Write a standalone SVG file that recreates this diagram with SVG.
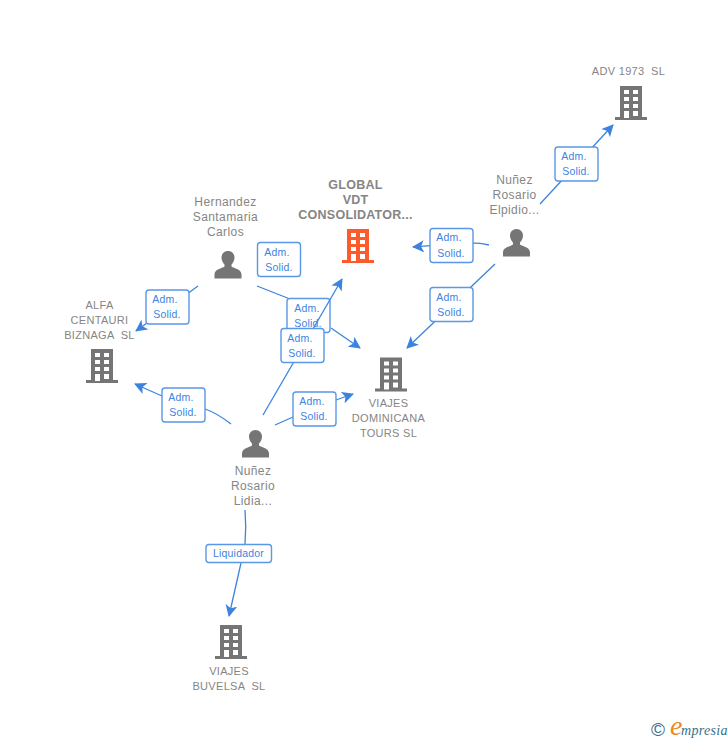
<svg xmlns="http://www.w3.org/2000/svg" width="728" height="740" viewBox="0 0 728 740">
<style>
.t{font-family:"Liberation Sans",Arial,sans-serif;font-size:12px;letter-spacing:.4px;fill:#858585;text-anchor:middle;white-space:pre}
.co{font-size:11px;letter-spacing:.3px}
.tb{font-weight:bold;font-size:12.5px;letter-spacing:.25px}
.c{fill:none;stroke:#3c83e0;stroke-width:1.3}
.a{fill:none;stroke:#3c83e0;stroke-width:1.3;marker-end:url(#arr)}
.b{fill:#fff;stroke:#5a97e6;stroke-width:1.4}
.l{font-family:"Liberation Sans",Arial,sans-serif;font-size:10.5px;letter-spacing:.2px;fill:#3c83e0;text-anchor:middle}
</style>
<defs>
<marker id="arr" markerUnits="userSpaceOnUse" viewBox="0 0 12 12" refX="11" refY="6" markerWidth="12" markerHeight="12" orient="auto"><path d="M0 0L12 6L0 12L3 6Z" fill="#3c83e0"/></marker>
<path id="bld" fill-rule="evenodd" d="M-11 0H11V31H16V34H-16V31H-11ZM-7 4V8H-2V4ZM2 4V8H7V4ZM-7 11V15H-2V11ZM2 11V15H7V11ZM-7 18V22H-2V18ZM2 18V22H7V18ZM-7 25V32H-2V25ZM2 25V30H7V25Z"/>
<path id="per" d="M0 0C4 0 6.500 3 6.500 6.500C6.500 9.500 5 12 3.500 13.500V15.500C6 17.500 13.500 18 13.500 23.500V27.500H-13.500V23.500C-13.500 18 -6 17.500 -3.500 15.500V13.500C-5 12 -6.500 9.500 -6.500 6.500C-6.500 3 -4 0 0 0Z"/>
</defs>
<rect width="728" height="740" fill="#fff"/>
<g id="connectors">
<path class="a" d="M540 204L613 125"/>
<path class="a" d="M489 245C470 240 445 245 413 247"/>
<path class="a" d="M495 264L407 348"/>
<path class="a" d="M198 286L136 331"/>
<path class="c" d="M257 286L290 299"/>
<path class="a" d="M331 328L360 348"/>
<path class="c" d="M231 424C222 417 214 412 205 409"/>
<path class="a" d="M162 396L135 384"/>
<path class="c" d="M275 425L293 417"/>
<path class="a" d="M336 400L353 394"/>
<path class="c" d="M245 510C246 522 246 533 245 544"/>
<path class="a" d="M241 563L229 616"/>
</g>
<g id="label-adv"><rect class="b" x="555" y="147" width="43" height="34" rx="3"/><text class="l" x="574" y="160">Adm.</text><text class="l" x="576" y="175">Solid.</text></g>
<g id="label-global-elpidio"><rect class="b" x="430" y="228.500" width="43" height="34" rx="3"/><text class="l" x="449" y="241">Adm.</text><text class="l" x="451" y="257">Solid.</text></g>
<g id="label-viajes-elpidio"><rect class="b" x="430" y="287.500" width="43" height="34" rx="3"/><text class="l" x="449" y="301">Adm.</text><text class="l" x="451" y="316">Solid.</text></g>
<g id="label-alfa-hernandez"><rect class="b" x="146" y="290" width="43" height="34" rx="3"/><text class="l" x="165" y="303">Adm.</text><text class="l" x="167" y="318">Solid.</text></g>
<g id="label-hernandez"><rect class="b" x="257.500" y="242.500" width="43" height="34" rx="3"/><text class="l" x="277" y="256">Adm.</text><text class="l" x="279" y="271">Solid.</text></g>
<g id="label-viajes-hernandez"><rect class="b" x="287" y="298.500" width="43" height="34" rx="3"/><text class="l" x="307" y="312">Adm.</text><text class="l" x="308" y="327">Solid.</text></g>
<path class="a" d="M263 415L342 279"/>
<g id="label-global-lidia"><rect class="b" x="281" y="328.500" width="43" height="34" rx="3"/><text class="l" x="300" y="342">Adm.</text><text class="l" x="302" y="357">Solid.</text></g>
<g id="label-viajes-lidia"><rect class="b" x="293" y="392" width="43" height="34" rx="3"/><text class="l" x="312" y="405">Adm.</text><text class="l" x="314" y="420">Solid.</text></g>
<g id="label-alfa-lidia"><rect class="b" x="162" y="388" width="43" height="34" rx="3"/><text class="l" x="181" y="401">Adm.</text><text class="l" x="183" y="416">Solid.</text></g>
<g id="label-buvelsa"><rect class="b" x="206" y="544.500" width="65.500" height="18" rx="3"/><text class="l" x="238.500" y="557">Liquidador</text></g>
<g id="node-adv"><use href="#bld" x="631" y="86" fill="#757575"/><text class="t co" x="628.500" y="75">ADV 1973  SL</text></g>
<g id="node-global"><use href="#bld" x="358" y="229" fill="#ff5a2b"/><text class="t tb" x="355.500" y="189">GLOBAL</text><text class="t tb" x="355.500" y="204">VDT</text><text class="t tb" x="355.500" y="219">CONSOLIDATOR...</text></g>
<g id="node-elpidio"><use href="#per" x="516.500" y="229" fill="#757575"/><text class="t" x="514.500" y="184">Nuñez</text><text class="t" x="514.500" y="199">Rosario</text><text class="t" x="514.500" y="214">Elpidio...</text></g>
<g id="node-hernandez"><use href="#per" x="228" y="251" fill="#757575"/><text class="t" x="225.500" y="206">Hernandez</text><text class="t" x="225.500" y="221">Santamaria</text><text class="t" x="225.500" y="236">Carlos</text></g>
<g id="node-alfa"><use href="#bld" x="102" y="349" fill="#757575"/><text class="t co" x="99.500" y="309">ALFA</text><text class="t co" x="99.500" y="324">CENTAURI</text><text class="t co" x="99.500" y="339">BIZNAGA  SL</text></g>
<g id="node-dominicana"><use href="#bld" x="391" y="357.500" fill="#757575"/><text class="t co" x="388.500" y="407">VIAJES</text><text class="t co" x="388.500" y="422">DOMINICANA</text><text class="t co" x="388.500" y="437">TOURS SL</text></g>
<g id="node-lidia"><use href="#per" x="255.500" y="430" fill="#757575"/><text class="t" x="253" y="475">Nuñez</text><text class="t" x="253" y="490">Rosario</text><text class="t" x="253" y="505">Lidia...</text></g>
<g id="node-buvelsa"><use href="#bld" x="231" y="625" fill="#757575"/><text class="t co" x="229" y="675">VIAJES</text><text class="t co" x="229" y="690">BUVELSA  SL</text></g>
<g id="logo"><text x="658" y="736" font-family="'Liberation Sans',sans-serif" font-size="19" fill="#35708c" text-anchor="middle">©</text><text x="670" y="735" font-family="'Liberation Serif',serif" font-style="italic" font-size="28" fill="#f08a1d">e</text><text x="681" y="735" font-family="'Liberation Serif',serif" font-style="italic" font-size="14" letter-spacing=".3" fill="#35708c">mpresia</text></g>
</svg>
